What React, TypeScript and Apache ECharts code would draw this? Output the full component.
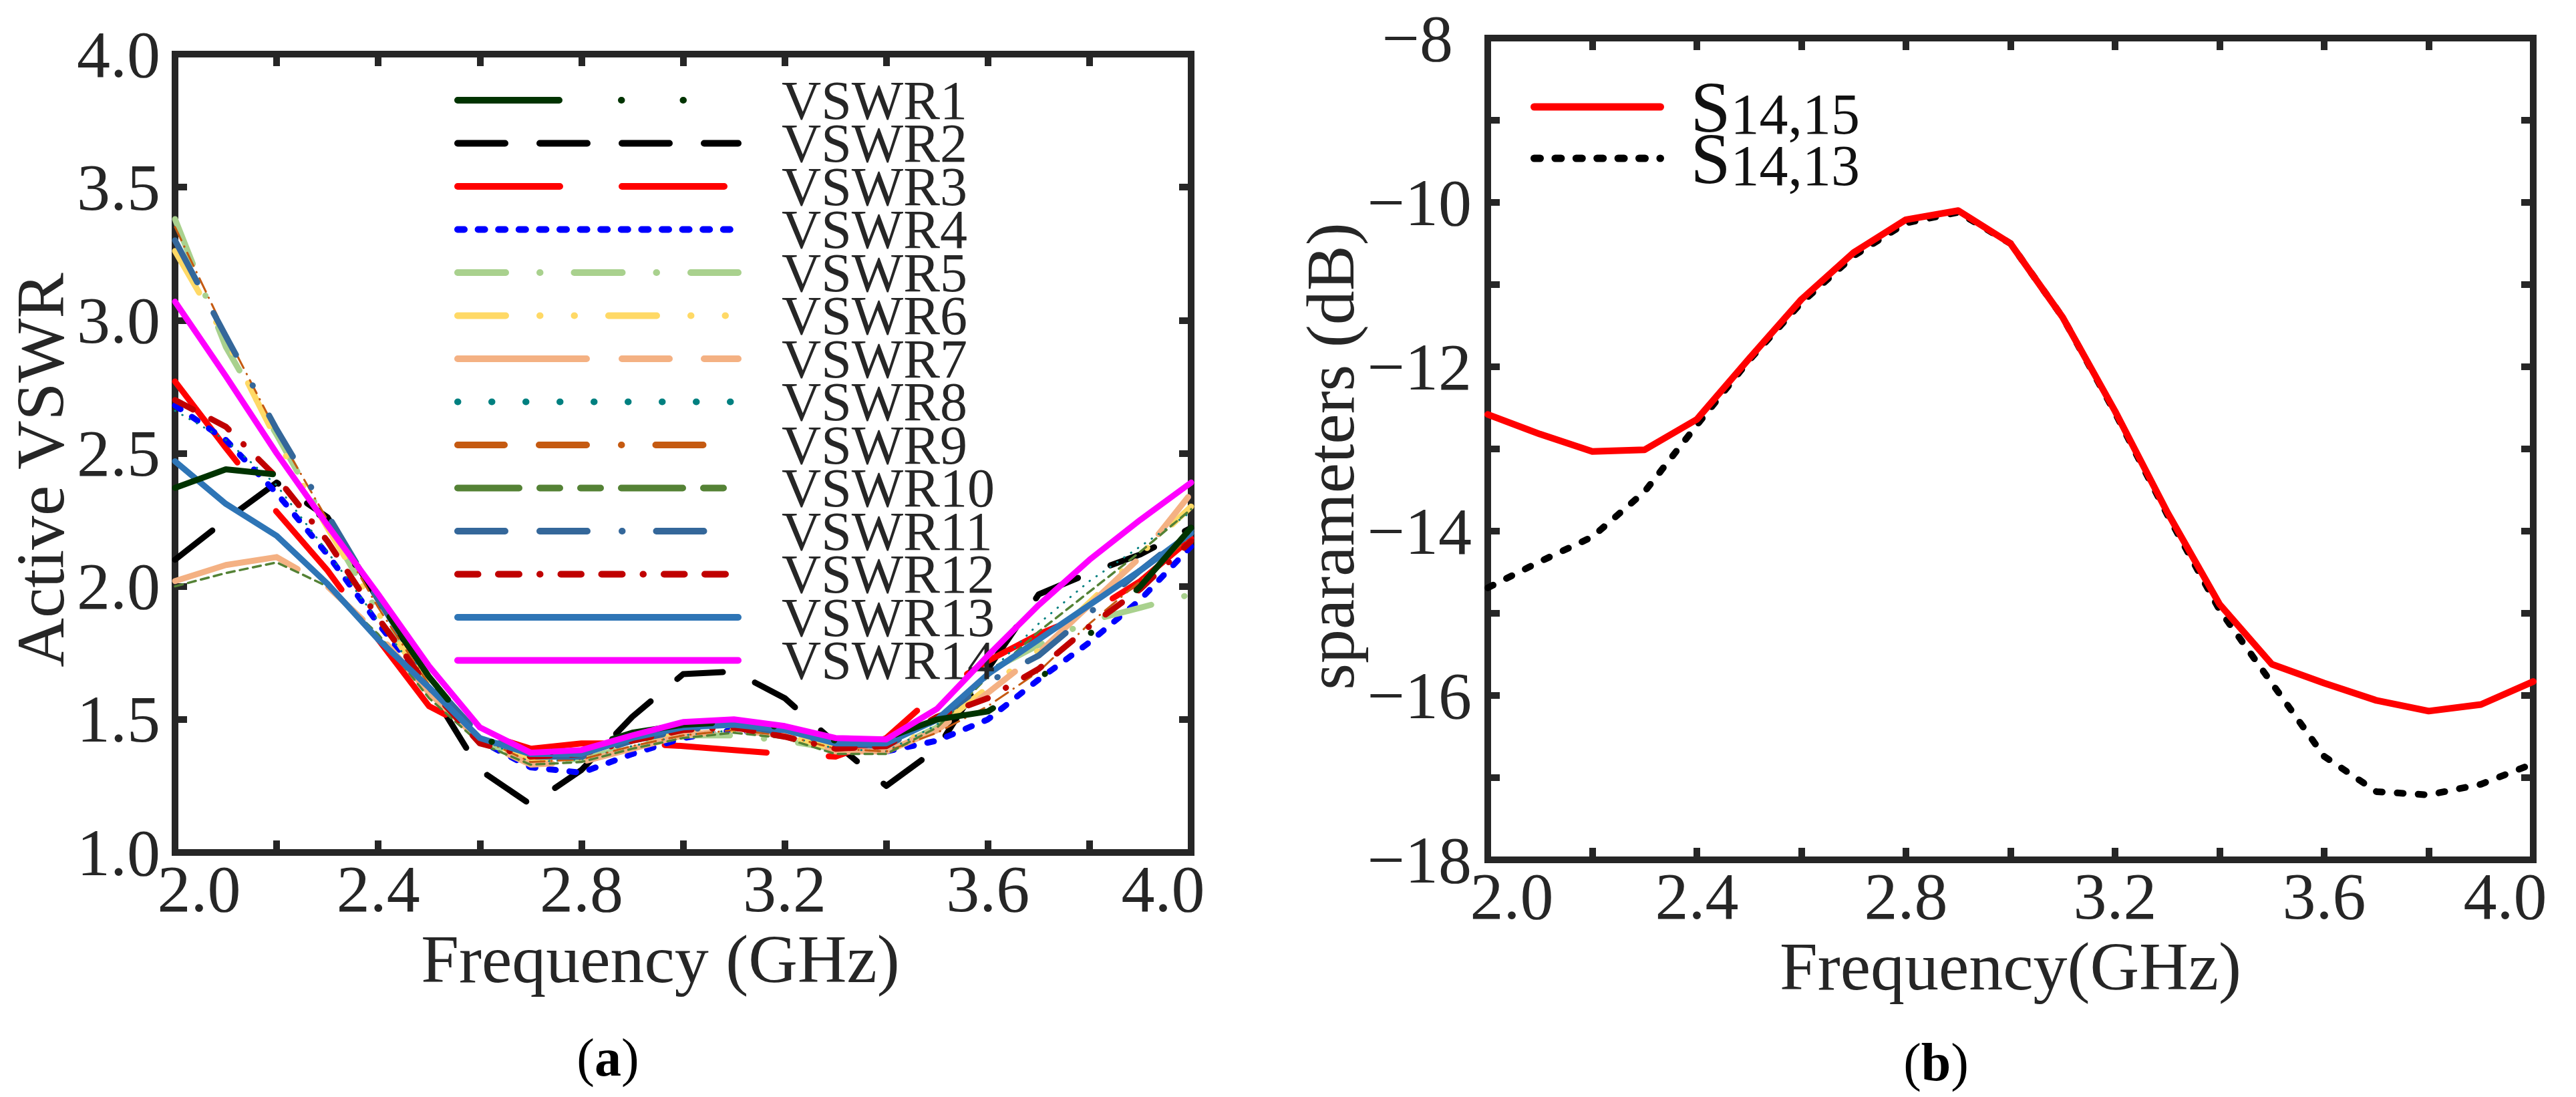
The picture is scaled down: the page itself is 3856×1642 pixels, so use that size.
import * as echarts from 'echarts';
import { useEffect, useRef } from 'react';

const FONT = 'Liberation Serif';
const INK = '#262626';

// frequency samples (GHz), shared by both panels
const frequency = [2.0, 2.1, 2.2, 2.3, 2.4, 2.5, 2.6, 2.7, 2.8, 2.9, 3.0, 3.1, 3.2, 3.3, 3.4, 3.5, 3.6, 3.7, 3.8, 3.9, 4.0];

// (a) active VSWR of ports 1..14
const vswr1 = [2.37, 2.44, 2.42, 2.24, 1.95, 1.66, 1.43, 1.37, 1.39, 1.45, 1.48, 1.49, 1.47, 1.42, 1.43, 1.5, 1.53, 1.65, 1.82, 2.0, 2.22];
const vswr2 = [2.1, 2.25, 2.39, 2.26, 1.95, 1.62, 1.31, 1.18, 1.31, 1.51, 1.67, 1.68, 1.58, 1.41, 1.25, 1.39, 1.69, 1.97, 2.05, 2.12, 2.22];
const vswr3 = [2.77, 2.52, 2.28, 2.06, 1.8, 1.55, 1.45, 1.39, 1.41, 1.41, 1.4, 1.385, 1.37, 1.36, 1.43, 1.6, 1.72, 1.82, 1.9, 2.02, 2.18];
const vswr4 = [2.68, 2.55, 2.35, 2.12, 1.86, 1.62, 1.42, 1.32, 1.3, 1.37, 1.43, 1.46, 1.44, 1.38, 1.38, 1.42, 1.5, 1.65, 1.79, 1.95, 2.15];
const vswr5 = [3.38, 2.9, 2.57, 2.23, 1.9, 1.62, 1.42, 1.35, 1.35, 1.4, 1.44, 1.44, 1.42, 1.39, 1.38, 1.47, 1.68, 1.78, 1.87, 1.92, 1.97];
const vswr6 = [3.26, 2.93, 2.55, 2.22, 1.9, 1.62, 1.43, 1.35, 1.36, 1.41, 1.45, 1.46, 1.44, 1.39, 1.39, 1.47, 1.62, 1.76, 1.94, 2.12, 2.3];
const vswr7 = [2.02, 2.08, 2.11, 2.0, 1.82, 1.6, 1.42, 1.33, 1.34, 1.39, 1.44, 1.46, 1.44, 1.38, 1.38, 1.46, 1.6, 1.75, 1.93, 2.11, 2.35];
const vswr8 = [2.66, 2.55, 2.38, 2.13, 1.87, 1.62, 1.43, 1.34, 1.35, 1.4, 1.44, 1.46, 1.44, 1.39, 1.38, 1.48, 1.67, 1.86, 2.02, 2.15, 2.28];
const vswr9 = [3.35, 2.95, 2.58, 2.25, 1.92, 1.63, 1.43, 1.34, 1.35, 1.4, 1.44, 1.46, 1.44, 1.39, 1.38, 1.45, 1.55, 1.68, 1.86, 2.02, 2.19];
const vswr10 = [2.0, 2.05, 2.09, 2.0, 1.82, 1.58, 1.41, 1.33, 1.34, 1.39, 1.43, 1.45, 1.43, 1.37, 1.37, 1.47, 1.66, 1.83, 1.98, 2.13, 2.29];
const vswr11 = [3.3, 2.94, 2.59, 2.27, 1.95, 1.65, 1.44, 1.36, 1.36, 1.42, 1.46, 1.48, 1.45, 1.41, 1.4, 1.5, 1.64, 1.74, 1.9, 2.06, 2.21];
const vswr12 = [2.7, 2.6, 2.41, 2.17, 1.88, 1.62, 1.41, 1.36, 1.37, 1.42, 1.46, 1.47, 1.435, 1.39, 1.4, 1.51, 1.58, 1.69, 1.85, 1.99, 2.17];
const vswr13 = [2.47, 2.31, 2.19, 2.01, 1.8, 1.62, 1.43, 1.37, 1.37, 1.43, 1.47, 1.48, 1.46, 1.41, 1.41, 1.5, 1.67, 1.8, 1.93, 2.06, 2.2];
const vswr14 = [3.07, 2.79, 2.5, 2.23, 1.97, 1.7, 1.47, 1.375, 1.385, 1.44, 1.49, 1.5, 1.475, 1.43, 1.425, 1.54, 1.74, 1.93, 2.1, 2.25, 2.39];

// (b) coupling in dB
const s1415 = [-12.58, -12.82, -13.03, -13.01, -12.64, -11.9, -11.18, -10.61, -10.21, -10.1, -10.5, -11.4, -12.54, -13.77, -14.89, -15.62, -15.85, -16.06, -16.19, -16.11, -15.83];
const s1413 = [-14.69, -14.37, -14.07, -13.52, -12.71, -11.92, -11.22, -10.65, -10.25, -10.12, -10.5, -11.4, -12.56, -13.8, -14.96, -15.85, -16.74, -17.17, -17.21, -17.08, -16.83];

const vswrNames = ['VSWR1', 'VSWR2', 'VSWR3', 'VSWR4', 'VSWR5', 'VSWR6', 'VSWR7', 'VSWR8', 'VSWR9', 'VSWR10', 'VSWR11', 'VSWR12', 'VSWR13', 'VSWR14'];
const vswrValues = [vswr1, vswr2, vswr3, vswr4, vswr5, vswr6, vswr7, vswr8, vswr9, vswr10, vswr11, vswr12, vswr13, vswr14];
const sNames = ['S14,15', 'S14,13'];
const sValues = [s1415, s1413];

// tick labels that are printed (the other ticks stay bare)
const xLabelValues = [2.0, 2.4, 2.8, 3.2, 3.6, 4.0];
const sLabelValues = [-8, -10, -12, -14, -16, -18];

// line styles
const vswrColors = ['#003300', '#000000', '#ff0000', '#0000ff', '#a9d18e', '#ffd966', '#f4b183', '#008080', '#c55a11', '#548235', '#34679a', '#c00000', '#2e75b6', '#ff00ff'];
const legendDash: (number[] | 'solid')[] = [
  [152, 93, 0.5, 92, 0.5, 93],
  [71, 52],
  [153, 93],
  [10, 20.6],
  [72, 51, 0.5, 51],
  [72, 51, 0.5, 51, 0.5, 51],
  [193, 53, 71, 52],
  [0.5, 50.5],
  [70, 52, 71, 52, 0.5, 51, 71, 55, 0.5, 60],
  [92, 31, 30, 31, 30, 31],
  [71, 52, 71, 52, 0.5, 51, 71, 53, 0.5, 60],
  [30.5, 30.5, 31, 31, 0.5, 31],
  'solid',
  'solid',
];
const plotDash: (number[] | 'solid')[] = legendDash.map((d, i) => {
  if (i === 7) return [0.5, 12];
  if (i === 8) return [22, 10, 0.5, 10];
  if (i === 9) return [12, 8];
  return d;
});
const plotWidth = [9, 9, 9, 9, 9, 9, 9, 3, 3, 3.5, 9, 9, 9, 9];

const frame = { color: INK, width: 10, cap: 'square' };
const tick = { show: true, inside: true, length: 18, lineStyle: { color: INK, width: 10 } };
const labelFont = { fontFamily: FONT, fontSize: 100, color: INK };

const xLabel = (v: number) => {
  const hit = xLabelValues.find((t) => Math.abs(t - v) < 1e-6);
  if (hit === undefined) return '';
  if (hit === xLabelValues[0]) return `{first|${hit.toFixed(1)}}`;
  if (hit === xLabelValues[xLabelValues.length - 1]) return `{last|${hit.toFixed(1)}}`;
  return hit.toFixed(1);
};

const sLabel = (v: number) => {
  const hit = sLabelValues.find((t) => Math.abs(t - v) < 1e-6);
  if (hit === undefined) return '';
  const txt = `\u2212${Math.abs(hit)}`;
  return hit === sLabelValues[0] ? `{top|${txt}}` : txt;
};

function freqAxis(gridIndex: number, bottom: boolean, name: string, shift: number) {
  return {
    type: 'value',
    gridIndex,
    position: bottom ? 'bottom' : 'top',
    min: 2,
    max: 4,
    interval: 0.2,
    axisLine: { show: true, lineStyle: frame },
    axisTick: tick,
    splitLine: { show: false },
    axisLabel: bottom
      ? {
          show: true,
          margin: 4,
          ...labelFont,
          formatter: xLabel,
          rich: {
            first: { ...labelFont, padding: [0, 0, 0, 72] },
            last: { ...labelFont, padding: [0, 84, 0, 0] },
          },
        }
      : { show: false },
    name: bottom ? name : '',
    nameLocation: 'middle',
    nameGap: 82,
    nameTextStyle: { fontFamily: FONT, fontSize: 102, color: INK, padding: shift ? [0, shift, 0, 0] : 0 },
  };
}

export default function App() {
  const ref = useRef<HTMLDivElement | null>(null);

  useEffect(() => {
    if (!ref.current) return;
    const chart = echarts.init(ref.current, null, { renderer: 'svg' });

    const vswrSeries = vswrNames.map((name, i) => ({
      type: 'line',
      name,
      xAxisIndex: 0,
      yAxisIndex: 0,
      symbol: 'none',
      data: frequency.map((f, k) => [f, vswrValues[i][k]]),
      lineStyle: { color: vswrColors[i], width: plotWidth[i], type: plotDash[i], cap: 'round', join: 'round' },
      itemStyle: { color: vswrColors[i] },
      z: i === 13 ? 4 : i === 0 ? 3 : 2,
    }));

    const sColors = ['#ff0000', '#000000'];
    const sDash: (number[] | 'solid')[] = ['solid', [9, 22.4]];
    const sSeries = sNames.map((name, i) => ({
      type: 'line',
      name,
      xAxisIndex: 2,
      yAxisIndex: 2,
      symbol: 'none',
      data: frequency.map((f, k) => [f, sValues[i][k]]),
      lineStyle: { color: sColors[i], width: 10, type: sDash[i], cap: 'round', join: 'round' },
      itemStyle: { color: sColors[i] },
      z: i === 0 ? 3 : 2,
    }));

    chart.setOption({
      animation: false,
      backgroundColor: '#ffffff',
      grid: [
        { left: 262, top: 81, width: 1521, height: 1195 },
        { left: 2227, top: 57, width: 1565, height: 1230 },
      ],
      xAxis: [
        freqAxis(0, true, 'Frequency (GHz)', 68),
        freqAxis(0, false, '', 0),
        freqAxis(1, true, 'Frequency(GHz)', 0),
        freqAxis(1, false, '', 0),
      ],
      yAxis: [
        {
          type: 'value',
          gridIndex: 0,
          position: 'left',
          min: 1,
          max: 4,
          interval: 0.5,
          axisLine: { show: true, lineStyle: frame },
          axisTick: tick,
          splitLine: { show: false },
          axisLabel: { ...labelFont, margin: 22, formatter: (v: number) => v.toFixed(1) },
          name: 'Active VSWR',
          nameLocation: 'middle',
          nameGap: 140,
          nameTextStyle: { fontFamily: FONT, fontSize: 102, color: INK, padding: [0, 50, 0, 0] },
        },
        {
          type: 'value',
          gridIndex: 0,
          position: 'right',
          min: 1,
          max: 4,
          interval: 0.5,
          axisLine: { show: true, lineStyle: frame },
          axisTick: tick,
          splitLine: { show: false },
          axisLabel: { show: false },
        },
        {
          type: 'value',
          gridIndex: 1,
          position: 'left',
          min: -18,
          max: -8,
          interval: 1,
          axisLine: { show: true, lineStyle: frame },
          axisTick: tick,
          splitLine: { show: false },
          axisLabel: {
            ...labelFont,
            margin: 24,
            formatter: sLabel,
            rich: { top: { ...labelFont, padding: [0, 28, 0, 0] } },
          },
          name: 'sparameters (dB)',
          nameLocation: 'middle',
          nameGap: 158,
          nameTextStyle: { fontFamily: FONT, fontSize: 102, color: INK, padding: [0, 22, 0, 0] },
        },
        {
          type: 'value',
          gridIndex: 1,
          position: 'right',
          min: -18,
          max: -8,
          interval: 1,
          axisLine: { show: true, lineStyle: frame },
          axisTick: tick,
          splitLine: { show: false },
          axisLabel: { show: false },
        },
      ],
      legend: [
        {
          orient: 'vertical',
          left: 680,
          top: 109,
          padding: 0,
          // rows are packed tighter than the label box, as in the original figure
          itemGap: -17.5,
          itemWidth: 420,
          itemHeight: 2,
          selectedMode: false,
          itemStyle: { opacity: 0, borderWidth: 0 },
          data: vswrNames.map((name, i) => ({
            name,
            lineStyle: { width: 10, type: legendDash[i], cap: 'round' },
          })),
          textStyle: {
            fontFamily: FONT,
            fontSize: 82,
            color: INK,
            padding: [0, 0, 12, 60],
          },
        },
        {
          orient: 'vertical',
          left: 2291,
          top: 106,
          padding: 0,
          itemGap: -31,
          itemWidth: 189,
          itemHeight: 2,
          selectedMode: false,
          itemStyle: { opacity: 0, borderWidth: 0 },
          data: sNames.map((name, i) => ({
            name,
            lineStyle: { width: 11, type: sDash[i], cap: 'round' },
          })),
          formatter: (name: string) => `{s|S}{n|${name.slice(1)}}`,
          textStyle: {
            fontFamily: FONT,
            color: '#111111',
            padding: [0, 0, 0, 40],
            rich: {
              s: { fontFamily: FONT, fontSize: 108, color: '#111111' },
              n: { fontFamily: FONT, fontSize: 86, color: '#111111', padding: [22, 0, 0, 0] },
            },
          },
        },
      ],
      graphic: [
        {
          type: 'text',
          x: 910,
          y: 1583,
          style: {
            text: '{p|(}{b|a}{p|)}',
            align: 'center',
            verticalAlign: 'middle',
            rich: {
              p: { fontFamily: FONT, fontSize: 80, fill: '#000' },
              b: { fontFamily: FONT, fontSize: 80, fontWeight: 'bold', fill: '#000' },
            },
          },
        },
        {
          type: 'text',
          x: 2898,
          y: 1590,
          style: {
            text: '{p|(}{b|b}{p|)}',
            align: 'center',
            verticalAlign: 'middle',
            rich: {
              p: { fontFamily: FONT, fontSize: 80, fill: '#000' },
              b: { fontFamily: FONT, fontSize: 80, fontWeight: 'bold', fill: '#000' },
            },
          },
        },
      ],
      series: [...vswrSeries, ...sSeries],
    } as any);

    return () => chart.dispose();
  }, []);

  return (
    <div
      ref={ref}
      style={{ position: 'absolute', left: 0, top: 0, width: 3856, height: 1642, background: '#fff' }}
    />
  );
}
